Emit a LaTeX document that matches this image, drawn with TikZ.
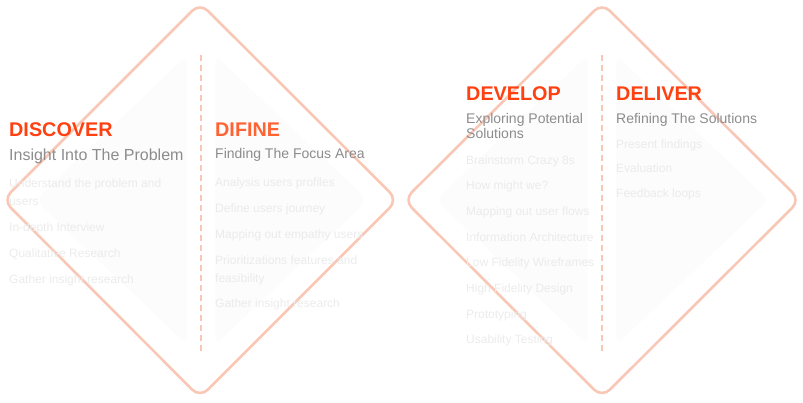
\documentclass[tikz,border=0pt]{standalone}
\usepackage{fontspec}
\setmainfont{Liberation Sans}
\usetikzlibrary{positioning}
\definecolor{peach}{HTML}{F9C7B5}
\definecolor{ghost}{HTML}{FCFCFC}
\definecolor{subgray}{HTML}{8C8C8C}
\definecolor{itemgray}{HTML}{EBEBEB}
\definecolor{hotred}{HTML}{FF4010}
\definecolor{hotorange}{HTML}{FF6233}

\begin{document}
\begin{tikzpicture}[x=1pt, y=-1pt,
   heading/.style={anchor=base west, inner sep=0pt, font=\fontsize{19.8}{22}\selectfont\bfseries},
   subhead/.style={anchor=base west, inner sep=0pt, text=subgray, align=left, font=\fontsize{14}{15}\selectfont},
   item/.style={anchor=base west, inner sep=0pt, text=itemgray, align=left, font=\fontsize{12}{18}\selectfont}]
   \useasboundingbox (0,0) rectangle (803,402);
   % faint half diamonds behind the text
   \fill[ghost, rounded corners=9pt] (187,200) -- (187,345) -- (35,200) -- (187,55) -- cycle;
   \fill[ghost, rounded corners=9pt] (215,200) -- (215,345) -- (368,200) -- (215,55) -- cycle;
   \fill[ghost, rounded corners=9pt] (588,200) -- (588,345) -- (436,200) -- (588,55) -- cycle;
   \fill[ghost, rounded corners=9pt] (616,200) -- (616,345) -- (769,200) -- (616,55) -- cycle;
   % outlines
   \draw[color=peach, line width=2.6pt, rounded corners=11pt]
     (101.5,101.5) -- (200,3) -- (397.5,200) -- (200,397.5) -- (3,200) -- cycle;
   \draw[color=peach, line width=2.6pt, rounded corners=11pt]
     (503,101.5) -- (602,3) -- (800,200) -- (602,397.5) -- (404,200) -- cycle;
   \draw[color=peach, line width=1.6pt, dash pattern=on 6pt off 4pt] (201,55) -- (201,353);
   \draw[color=peach, line width=1.6pt, dash pattern=on 6pt off 4pt] (602,55) -- (602,353);

   % discover (base of a wrapped node = its last line)
   \node[heading, text=hotred] (discover) at (9,136) {DISCOVER};
   \node[subhead, font=\fontsize{16}{17}\selectfont] (discoversub) at (9,160.5) {Insight Into The Problem};
   \node[item] (disc1) at (9,205) {Understand the problem and\\users};
   \node[item] (disc2) at (9,231) {In-depth Interview};
   \node[item] (disc3) at (9,257) {Qualitative Research};
   \node[item] (disc4) at (9,283) {Gather insight research};

   % define
   \node[heading, text=hotorange] (define) at (215,136) {DIFINE};
   \node[subhead] (definesub) at (215,158) {Finding The Focus Area};
   \node[item] (def1) at (215,186) {Analysis users profiles};
   \node[item] (def2) at (215,212) {Define users journey};
   \node[item] (def3) at (215,238) {Mapping out empathy users};
   \node[item] (def4) at (215,282) {Prioritizations features and\\feasibility};
   \node[item] (def5) at (215,307) {Gather insight research};

   % develop
   \node[heading, text=hotred] (develop) at (466,100) {DEVELOP};
   \node[subhead] (developsub) at (466,138) {Exploring Potential\\Solutions};
   \node[item] (dev1) at (466,164) {Brainstorm Crazy 8s};
   \node[item] (dev2) at (466,189.7) {How might we?};
   \node[item] (dev3) at (466,215.4) {Mapping out user flows};
   \node[item] (dev4) at (466,241.1) {Information Architecture};
   \node[item] (dev5) at (466,266.8) {Low Fidelity Wireframes};
   \node[item] (dev6) at (466,292.5) {High Fidelity Design};
   \node[item] (dev7) at (466,318.2) {Prototyping};
   \node[item] (dev8) at (466,343.9) {Usability Testing};

   % deliver
   \node[heading, text=hotred] (deliver) at (616,100) {DELIVER};
   \node[subhead] (deliversub) at (616,123) {Refining The Solutions};
   \node[item] (del1) at (616,148) {Present findings};
   \node[item] (del2) at (616,172) {Evaluation};
   \node[item] (del3) at (616,197) {Feedback loops};
\end{tikzpicture}
\end{document}
